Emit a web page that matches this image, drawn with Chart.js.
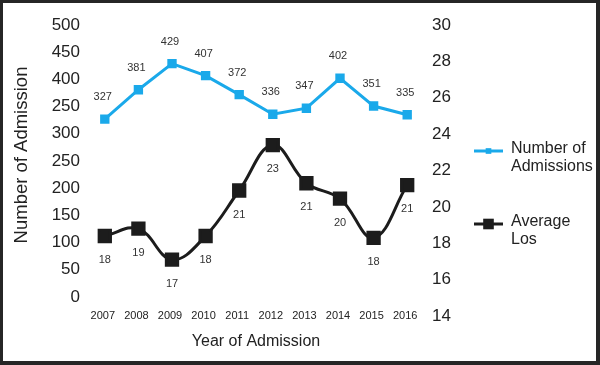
<!DOCTYPE html>
<html>
<head>
<meta charset="utf-8">
<script src="https://cdn.jsdelivr.net/npm/chart.js@4"></script>
<style>
  body { margin: 0; background: #fff; }
  #wrap { width: 600px; height: 365px; }
</style>
</head>
<body>
<div id="wrap"><canvas id="myChart" width="600" height="365"></canvas></div>
<script>
var years = ["2007", "2008", "2009", "2010", "2011", "2012", "2013", "2014", "2015", "2016"];
var admissions = [327, 381, 429, 407, 372, 336, 347, 402, 351, 335];
var averageLos = [18.4, 18.8, 17.1, 18.4, 20.9, 23.4, 21.3, 20.45, 18.3, 21.2];

// left axis ticks (the picture shows "250" where 350 should be)
var leftTickValues = [0, 50, 100, 150, 200, 250, 300, 350, 400, 450, 500];
var leftTickLabels = ["0", "50", "100", "150", "200", "250", "300", "250", "400", "450", "500"];

var FONT = "'Liberation Sans', Arial, sans-serif";
var blue = "#1aa9ea";
var black = "#1c1c1c";

var framePlugin = {
    id: "frame",
    beforeDraw: function(chart) {
        var ctx = chart.ctx;
        ctx.save();
        ctx.fillStyle = "#262626";
        ctx.fillRect(0, 0, chart.width, chart.height);
        ctx.fillStyle = "#ffffff";
        ctx.fillRect(3, 3, 593, 358);
        ctx.restore();
    }
};

var labelsPlugin = {
    id: "pointLabels",
    afterDatasetsDraw: function(chart) {
        var ctx = chart.ctx;
        ctx.save();
        ctx.font = "11px " + FONT;
        ctx.fillStyle = "#333";
        ctx.textAlign = "center";
        ctx.textBaseline = "middle";
        chart.getDatasetMeta(0).data.forEach(function(p, i) {
            ctx.fillText(String(admissions[i]), p.x - 2, p.y - 22);
        });
        chart.getDatasetMeta(1).data.forEach(function(p, i) {
            ctx.fillText(String(Math.round(averageLos[i])), p.x, p.y + 24);
        });

        // x tick labels sit on the bottom edge of the plot
        var xs = chart.scales.x;
        ctx.fillStyle = "#222";
        years.forEach(function(y, i) {
            ctx.fillText(y, xs.getPixelForValue(i) - 2, chart.chartArea.bottom);
        });

        // y axis title
        ctx.save();
        ctx.translate(22, 155);
        ctx.rotate(-Math.PI / 2);
        ctx.font = "18.5px " + FONT;
        ctx.fillStyle = "#222";
        ctx.fillText("Number of Admission", 0, 0);
        ctx.restore();

        // legend
        var items = [
            { lines: ["Number of", "Admissions"], color: blue, y: 151, r: 4, lw: 3 },
            { lines: ["Average", "Los"], color: black, y: 224, r: 7.5, lw: 3 }
        ];
        items.forEach(function(it) {
            ctx.strokeStyle = it.color;
            ctx.lineWidth = it.lw;
            ctx.beginPath();
            ctx.moveTo(474, it.y);
            ctx.lineTo(503, it.y);
            ctx.stroke();
            ctx.fillStyle = it.color;
            var s = it.r * Math.SQRT1_2;
            ctx.fillRect(488.5 - s, it.y - s, 2 * s, 2 * s);
            ctx.fillStyle = "#222";
            ctx.font = "16px " + FONT;
            ctx.textAlign = "left";
            ctx.fillText(it.lines[0], 511, it.y - 2);
            ctx.fillText(it.lines[1], 511, it.y + 16);
        });
        ctx.restore();
    }
};

var ctx = document.getElementById("myChart").getContext("2d");
var chart = new Chart(ctx, {
    type: "line",
    data: {
        labels: years,
        datasets: [{
            label: "Number of Admissions",
            data: admissions,
            yAxisID: "y",
            borderColor: blue,
            backgroundColor: blue,
            borderWidth: 3,
            pointStyle: "rect",
            pointRadius: 4.5,
            tension: 0,
            fill: false
        }, {
            label: "Average Los",
            data: averageLos,
            yAxisID: "y1",
            borderColor: black,
            backgroundColor: black,
            borderWidth: 3,
            pointStyle: "rect",
            pointRadius: 8,
            tension: 0.4,
            fill: false
        }]
    },
    options: {
        responsive: false,
        animation: false,
        layout: { padding: { top: 25, left: 0, right: 0, bottom: 0 } },
        plugins: {
            legend: { display: false },
            tooltip: { enabled: false }
        },
        scales: {
            x: {
                offset: true,
                grid: { display: false, drawTicks: false },
                border: { display: false },
                ticks: { display: false },
                title: { display: true, text: "Year of Admission", font: { family: FONT, size: 16 }, color: "#222", padding: { top: 0, bottom: 14 } },
                afterFit: function(scale) { scale.height = 49; }
            },
            y: {
                position: "left",
                min: -35,
                max: 500,
                grid: { display: false, drawTicks: false },
                border: { display: false },
                afterBuildTicks: function(scale) {
                    scale.ticks = leftTickValues.map(function(v) { return { value: v }; });
                },
                ticks: {
                    font: { family: FONT, size: 17 },
                    color: "#222",
                    padding: 8,
                    callback: function(value, index) { return leftTickLabels[index]; }
                },
                afterFit: function(scale) { scale.width = 88; }
            },
            y1: {
                position: "right",
                min: 14,
                max: 30,
                grid: { display: false, drawTicks: false },
                border: { display: false },
                ticks: { stepSize: 2, font: { family: FONT, size: 17 }, color: "#222", padding: 8 },
                afterFit: function(scale) { scale.width = 176; }
            }
        }
    },
    plugins: [framePlugin, labelsPlugin]
});
</script>
</body>
</html>
